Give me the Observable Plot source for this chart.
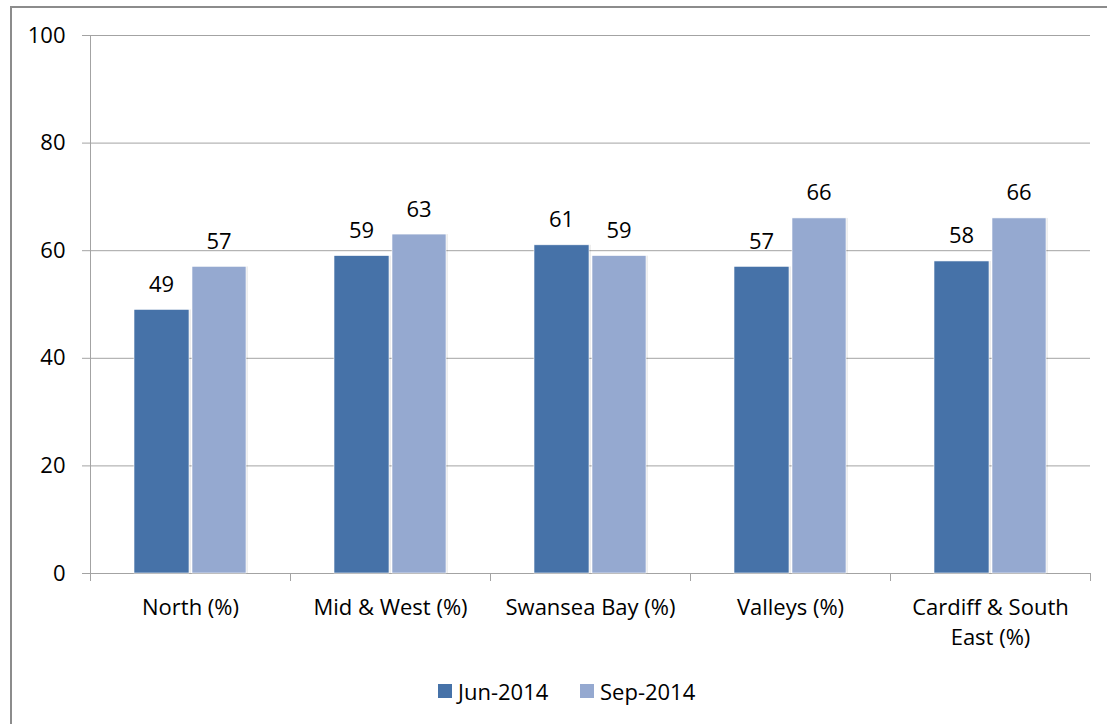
<!DOCTYPE html>
<html><head><meta charset="utf-8">
<script src="https://cdn.jsdelivr.net/npm/d3@7"></script>
<script src="https://cdn.jsdelivr.net/npm/@observablehq/plot@0.6"></script>
<style>
body{margin:0;background:#fff;font-family:"Open Sans",sans-serif;width:1107px;height:724px;overflow:hidden;position:relative}
#frame{position:absolute;left:10px;top:6px;width:1200px;height:800px;border:2px solid #8c8c8c;box-sizing:border-box}
#chart{position:absolute;left:0;top:0}
#legend{position:absolute;top:676px;left:438px;display:flex;align-items:center;font-size:22px;color:#000;line-height:30px}
#legend .item{display:flex;align-items:center;width:142px}
#legend .sw{width:14px;height:14px;margin-right:6px}
</style></head><body>
<div id="frame"></div><div id="chart"></div><div id="legend"></div>
<script>
const categories = ["North (%)", "Mid & West (%)", "Swansea Bay (%)", "Valleys (%)", "Cardiff & South East (%)"];
const seriesNames = ["Jun-2014", "Sep-2014"];
const junValues = [49, 59, 61, 57, 58];
const sepValues = [57, 63, 59, 66, 66];
const yTicks = [0, 20, 40, 60, 80, 100];
const colors = ["#4672a8", "#95a9d0"];

const jun = categories.map((c, i) => ({cat: c, v: junValues[i]}));
const sep = categories.map((c, i) => ({cat: c, v: sepValues[i]}));
const lastCat = categories.slice(-1);
const gridColor = "#a3a3a3";

const plot = Plot.plot({
  width: 1107, height: 660,
  marginLeft: 90, marginRight: 17, marginTop: 35, marginBottom: 87,
  style: {background: "transparent", fontFamily: "'Open Sans', sans-serif", fontSize: "22px", color: "#000", overflow: "visible"},
  x: {domain: categories, paddingInner: 0.44, paddingOuter: 0.22, axis: null},
  y: {domain: [0, 100], axis: null},
  marks: [
    Plot.ruleY(yTicks, {stroke: gridColor, strokeWidth: 1}),
    Plot.axisY(yTicks, {tickSize: 8, tickPadding: 17, stroke: gridColor, fill: "#000", fontSize: 22, label: null}),
    Plot.frame({anchor: "left", stroke: gridColor}),
    Plot.axisX(categories, {dx: -100, tickSize: 8, tickFormat: () => "", stroke: gridColor, label: null}),
    Plot.axisX(lastCat, {dx: 100, tickSize: 8, tickFormat: () => "", stroke: gridColor, label: null}),
    Plot.axisX(categories, {tickSize: 0, tickPadding: 20, fontSize: 22, fill: "#000", lineHeight: 1.36, label: null,
      tickFormat: d => d.replace(" South East", " South\nEast")}),
    // soft shadows
    Plot.barY(jun, {x: "cat", y: "v", insetRight: 57, dx: 2, fill: "#000", fillOpacity: 0.07}),
    Plot.barY(sep, {x: "cat", y: "v", insetLeft: 58, dx: 2, fill: "#000", fillOpacity: 0.07}),
    Plot.barY(jun, {x: "cat", y: "v", insetRight: 57, fill: colors[0], stroke: "#fff", strokeWidth: 0.6}),
    Plot.barY(sep, {x: "cat", y: "v", insetLeft: 58, fill: colors[1], stroke: "#fff", strokeWidth: 0.6}),
    Plot.text(jun, {x: "cat", y: "v", text: d => String(d.v), dx: -29, dy: -18, lineAnchor: "bottom", fontSize: 22, fill: "#000"}),
    Plot.text(sep, {x: "cat", y: "v", text: d => String(d.v), dx: 28.5, dy: -18, lineAnchor: "bottom", fontSize: 22, fill: "#000"})
  ]
});
document.getElementById("chart").appendChild(plot);

const legend = document.getElementById("legend");
seriesNames.forEach((s, i) => {
  const item = document.createElement("div");
  item.className = "item";
  const sw = document.createElement("div");
  sw.className = "sw";
  sw.style.background = colors[i];
  const t = document.createElement("span");
  t.textContent = s;
  item.appendChild(sw); item.appendChild(t);
  legend.appendChild(item);
});
</script>
</body></html>
